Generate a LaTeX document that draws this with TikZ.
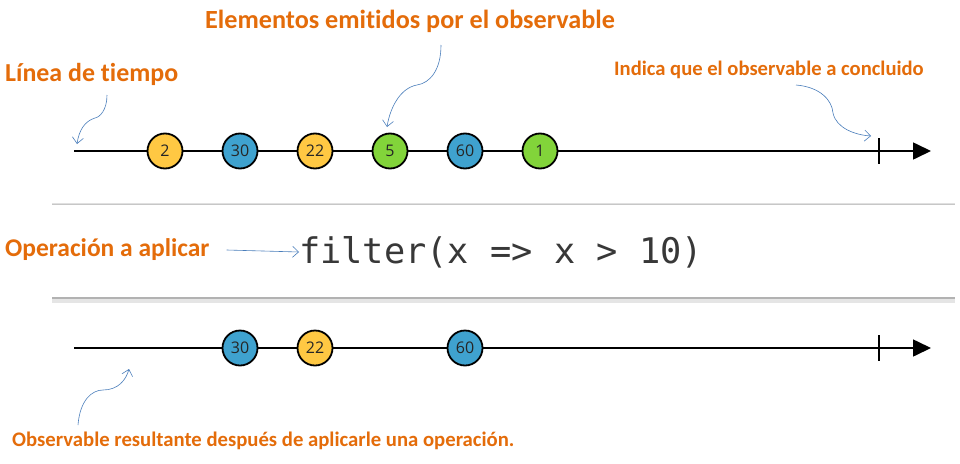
\documentclass[tikz,border=0pt]{standalone}
\usepackage{fontspec}
\setmainfont{Carlito}[Ligatures={NoCommon}]
\newfontfamily\codefont{DejaVu Sans Mono}
\newfontfamily\numfont{Open Sans}
\usetikzlibrary{arrows.meta}
\definecolor{orng}{HTML}{E46C0A}
\definecolor{ylw}{HTML}{FFC843}
\definecolor{blu}{HTML}{3FA2CF}
\definecolor{grn}{HTML}{82D43A}
\definecolor{arrblue}{HTML}{4A7EBB}
\tikzset{
  marble/.style={circle,draw=black,line width=1.8pt,minimum size=35pt,inner sep=0pt,font=\numfont\fontsize{16}{16}\selectfont,text=black!85},
  tl/.style={line width=1.6pt,draw=black},
  tip/.style={-{Triangle[length=18pt,width=17pt]}},
  lbl/.style={text=orng,font=\bfseries\fontsize{#1}{#1}\selectfont,inner sep=0pt,anchor=west},
  callout/.style={draw=arrblue,line width=0.6pt,-{Straight Barb[length=6pt,width=11pt]}},
}
\begin{document}
\begin{tikzpicture}[x=1pt,y=-1pt]
\useasboundingbox (0,0) rectangle (960,463);
\fill[white] (0,0) rectangle (960,463);

% top timeline
\coordinate (s1) at (74,151);
\coordinate (e1) at (931,151);
\draw[tl,tip] (s1) -- (e1);
\coordinate (t1a) at (879,138);
\coordinate (t1b) at (879,164);
\draw[tl] (t1a) -- (t1b);
\node[marble,fill=ylw] (a1) at (165,151) {2};
\node[marble,fill=blu] (a2) at (240,151) {30};
\node[marble,fill=ylw] (a3) at (315,151) {22};
\node[marble,fill=grn] (a4) at (390,151) {5};
\node[marble,fill=blu] (a5) at (465,151) {60};
\node[marble,fill=grn] (a6) at (540,151) {1};

% separators
\coordinate (sp1a) at (52,204);
\coordinate (sp1b) at (955,204);
\draw[black!12,line width=2pt] (sp1a) -- (sp1b);
\draw[black!22,line width=0.8pt] (sp1a) -- (sp1b);
\coordinate (sp2a) at (52,298);
\coordinate (sp2b) at (955,298);
\draw[black!10,line width=6pt] ([yshift=-2pt]sp2a) -- ([yshift=-2pt]sp2b);
\draw[black!30,line width=2.2pt] (sp2a) -- (sp2b);

% operation
\node[lbl=25.5] (op) at (5,250) {Operación a aplicar};
\node[anchor=west,inner sep=0pt,font=\codefont\fontsize{35.3}{35.3}\selectfont,text=black!78] (code) at (299,252) {filter(x => x > 10)};
\draw[callout] ([xshift=17pt]op.east) -- (code.west);

% bottom timeline
\coordinate (s2) at (74,348);
\coordinate (e2) at (931,348);
\draw[tl,tip] (s2) -- (e2);
\coordinate (t2a) at (879,335);
\coordinate (t2b) at (879,361);
\draw[tl] (t2a) -- (t2b);
\node[marble,fill=blu] (b2) at (240,348) {30};
\node[marble,fill=ylw] (b3) at (315,348) {22};
\node[marble,fill=blu] (b5) at (465,348) {60};

% labels
\node[lbl=26.2] (elem) at (205,21) {Elementos emitidos por el observable};
\node[lbl=25.9] (linea) at (5,74) {Línea de tiempo};
\node[lbl=20.6] (indica) at (614,70) {Indica que el observable a concluido};
\node[lbl=20.7] (obsres) at (12,441) {Observable resultante después de aplicarle una operación.};

% callout arrows
\coordinate (c1s) at (107,95);
\coordinate (c1e) at (77,144);
\draw[callout] (c1s) .. controls (107,110) and (100,117) .. (95,118) .. controls (85,121) and (79,130) .. (c1e);
\coordinate (c2s) at (441,45);
\coordinate (c2e) at (387,127);
\draw[callout] (c2s) .. controls (441,70) and (430,83) .. (417,85) .. controls (400,88) and (390,108) .. (c2e);
\coordinate (c3s) at (796,85);
\coordinate (c3e) at (871,136);
\draw[callout] (c3s) .. controls (820,87) and (832,100) .. (833,113) .. controls (836,128) and (855,135) .. (c3e);
\coordinate (c4s) at (78,425);
\coordinate (c4e) at (129,369);
\draw[callout] (c4s) .. controls (80,400) and (92,390) .. (103,390) .. controls (118,390) and (126,380) .. (c4e);
\end{tikzpicture}
\end{document}
